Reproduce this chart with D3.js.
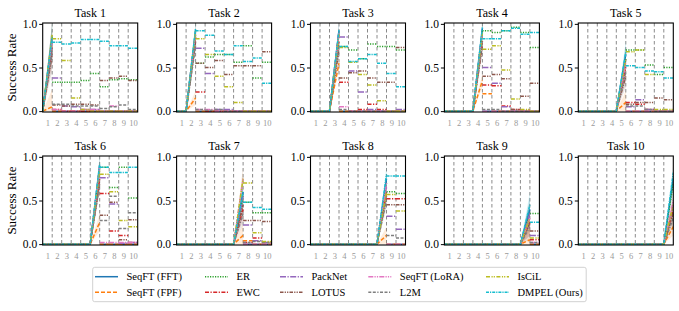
<!DOCTYPE html>
<html><head><meta charset="utf-8">
<script src="https://cdn.jsdelivr.net/npm/d3@7"></script>
<style>
html,body{margin:0;padding:0;background:#fff;}
svg{display:block;}
</style></head>
<body><svg id="chart" width="679" height="311"></svg>
<script>
const methods = ["SeqFT (FFT)", "SeqFT (FPF)", "ER", "EWC", "PackNet", "LOTUS", "SeqFT (LoRA)", "L2M", "IsCiL", "DMPEL (Ours)"];
const taskTitles = ["Task 1","Task 2","Task 3","Task 4","Task 5","Task 6","Task 7","Task 8","Task 9","Task 10"];
const xTicks = [1,2,3,4,5,6,7,8,9,10];
const yTicks = [0.0, 0.5, 1.0];

// Row t-1: [value at end of task t, then value after each later task t+1..10]
const seqftFFT = [
 [0.85,0,0,0,0,0,0,0,0,0],[0.93,0,0,0,0,0,0,0,0],[0.92,0,0,0,0,0,0,0],[0.95,0,0,0,0,0,0],
 [0.65,0,0,0,0,0],[0.90,0,0,0,0],[0.60,0,0,0],[0.75,0,0],[0.40,0],[0.75]];
const seqftFPF = [
 [0.05,0,0,0,0,0,0,0,0,0],[0.15,0,0,0,0,0,0,0,0],[0.55,0,0,0,0,0,0,0],[0.35,0.20,0,0,0,0,0],
 [0.10,0,0,0,0,0],[0.25,0,0,0,0],[0.10,0.04,0,0],[0.10,0,0],[0.05,0],[0.20]];
const er = [
 [0.80,0.33,0.33,0.33,0.35,0.43,0.28,0.36,0.37,0.36],[0.88,0.55,0.62,0.65,0.65,0.56,0.75,0.38,0.56],
 [0.90,0.74,0.70,0.60,0.77,0.74,0.74,0.70],[0.92,0.92,0.90,0.92,0.96,0.90,0.73],
 [0.60,0.70,0.70,0.53,0.42,0.50],[0.88,0.88,0.65,0.88,0.53],[0.55,0.48,0.36,0.36],[0.70,0.60,0.58],[0.35,0.35],[0.70]];
const ewc = [
 [0.75,0.02,0,0,0,0,0,0,0,0],[0.85,0.22,0,0,0,0,0,0,0],[0.80,0.33,0,0.02,0.08,0.02,0,0],
 [0.80,0.30,0.29,0.06,0.02,0.01,0],[0.50,0.10,0.08,0.02,0,0],[0.75,0.58,0.15,0.10,0.02],
 [0.40,0.02,0.07,0.02],[0.60,0.52,0.52],[0.25,0.05],[0.40]];
const packnet = [
 [0.82,0.38,0.06,0.05,0.02,0.02,0,0,0,0],[0.90,0.72,0.43,0.02,0.02,0,0,0,0],[0.92,0.85,0.46,0.22,0.02,0,0,0.02],
 [0.92,0.50,0.32,0.05,0,0,0],[0.60,0.05,0.13,0.02,0,0],[0.85,0.76,0.46,0.01,0.02],
 [0.55,0.22,0.04,0.02],[0.65,0.32,0.17],[0.35,0.10],[0.45]];
const lotus = [
 [0.65,0.07,0.06,0.08,0.08,0.07,0.35,0.38,0.40,0.35],[0.80,0.55,0.50,0.58,0.42,0.52,0.52,0.52,0.68],
 [0.70,0.38,0.44,0.46,0.38,0.33,0.33,0.73],[0.75,0.40,0.42,0.37,0.02,0.17,0.32],
 [0.40,0.08,0.10,0.10,0.15,0.13],[0.70,0.33,0.48,0.05,0.28],[0.45,0.27,0.27,0.26],[0.55,0.45,0.45],[0.25,0.15],[0.35]];
const seqftLoRA = [
 [0.80,0.02,0,0,0.02,0.02,0,0.06,0,0],[0.90,0.02,0.02,0,0,0,0,0,0],[0.90,0.05,0,0,0,0,0,0],
 [0.90,0,0,0,0,0,0],[0.55,0,0,0,0,0],[0.90,0.02,0.02,0.02,0.02],[0.75,0,0,0],[0.70,0,0],[0.30,0.02],[0.50]];
const l2m = [
 [0.70,0.08,0.08,0.06,0.06,0.06,0.03,0.05,0.07,0.02],[0.75,0.02,0.01,0.02,0,0,0,0,0],[0.75,0.02,0,0,0,0,0,0],
 [0.80,0.02,0.02,0,0,0,0],[0.45,0.06,0.06,0.02,0,0],[0.70,0.27,0.55,0.18,0.36],[0.35,0.02,0.03,0.02],
 [0.50,0.10,0.07],[0.20,0.02],[0.30]];
const iscil = [
 [0.88,0.83,0.58,0.15,0.02,0,0,0,0,0],[0.92,0.83,0.65,0.40,0.28,0.10,0,0,0],[0.88,0.73,0.56,0.42,0.30,0.12,0,0],
 [0.90,0.71,0.75,0.47,0.14,0.02,0],[0.60,0.68,0.70,0.42,0.02,0.02],[0.85,0.80,0.60,0.27,0.20],
 [0.75,0.70,0.13,0.03],[0.60,0.57,0.38],[0.30,0.07],[0.45]];
const dmpel = [
 [0.85,0.79,0.77,0.78,0.82,0.82,0.80,0.75,0.75,0.72],[0.95,0.92,0.87,0.69,0.65,0.75,0.57,0.61,0.32],
 [0.93,0.74,0.57,0.60,0.65,0.55,0.43,0.28],[0.96,0.83,0.83,0.92,0.95,0.88,0.90],
 [0.68,0.52,0.50,0.46,0.45,0.38],[0.92,0.88,0.82,0.82,0.88],[0.60,0.48,0.42,0.40],[0.80,0.78,0.78],[0.45,0.25],[0.82]];
// spread (std) of the learning curve at the end of each task
const rampStd = [0.2,0.08,0.08,0.08,0.13,0.1,0.13,0.1,0.15,0.1];

const seriesData = [seqftFFT, seqftFPF, er, ewc, packnet, lotus, seqftLoRA, l2m, iscil, dmpel];
const colors = ["#1f77b4","#ff7f0e","#2ca02c","#d62728","#9467bd","#8c564b","#e377c2","#7f7f7f","#bcbd22","#17becf"];
const dashes = [null,"4,2","1.2,1.3","4,1.5,1.2,1.5","6,1.5,1.2,1.5","3.5,1.2,1.2,1.2,1.2,1.2","5,1.2,1.2,1.2,1.2,1.2","3,1.5,3,1.5,1.2,1.5","4,1.5,1.2,1,1.2,1.5","3,1,1.2,1"];

// pick the first installed serif font
function pickFont(cands) {
  const ctx = document.createElement("canvas").getContext("2d");
  const s = "Success Rate SeqFT (LoRA) 0123456789";
  for (const f of cands) {
    let ok = true;
    for (const fb of ["monospace", "sans-serif"]) {
      ctx.font = `20px ${fb}`; const w0 = ctx.measureText(s).width;
      ctx.font = `20px "${f}", ${fb}`; const w1 = ctx.measureText(s).width;
      if (Math.abs(w0 - w1) < 0.01) ok = false;
    }
    if (ok) return `"${f}", serif`;
  }
  return "serif";
}
const FONT = pickFont(["Liberation Serif", "Times New Roman", "Tinos", "DejaVu Serif"]);

const svg = d3.select("#chart").attr("font-family", FONT);
const panelW = 95, colStep = 133.9, left0 = 42.7;
const rows = [{top:23, bottom:112}, {top:156, bottom:245}];

taskTitles.forEach((title, t) => {
  const col = t % 5, row = Math.floor(t / 5);
  const L = left0 + col * colStep;
  const R = rows[row];
  const x = d3.scaleLinear().domain([0.5, 10.5]).range([L, L + panelW]);
  const y = d3.scaleLinear().domain([-0.01, 1.01]).range([R.bottom, R.top]);
  const g = svg.append("g");
  const clipId = "clip" + t;
  g.append("clipPath").attr("id", clipId).append("rect")
    .attr("x", L).attr("y", R.top).attr("width", panelW).attr("height", R.bottom - R.top);
  const plot = g.append("g").attr("clip-path", `url(#${clipId})`);

  plot.selectAll("line.vb").data(d3.range(1.5, 10, 1)).join("line")
    .attr("x1", d => x(d)).attr("x2", d => x(d)).attr("y1", R.top).attr("y2", R.bottom)
    .attr("stroke", "#8a8a8a").attr("stroke-width", 1).attr("stroke-dasharray", "3.5,2.5");

  const tk = t + 1;
  seriesData.forEach((s, m) => {
    const peak = s[t][0], sd = rampStd[t];
    const pts = [[tk - 0.5, 0], [tk + 0.5, Math.min(1.02, peak + sd)], [tk + 0.5, Math.max(0, peak - sd)]];
    plot.append("path")
      .attr("d", d3.line().x(d => x(d[0])).y(d => y(d[1]))(pts) + "Z")
      .attr("fill", colors[m]).attr("fill-opacity", 0.15).attr("stroke", "none");
  });

  const line = d3.line().x(d => x(d[0])).y(d => y(d[1]));
  seriesData.forEach((s, m) => {
    const vals = s[t];
    const pre = [[0.5, 0], [tk - 0.5, 0], [tk + 0.5, vals[0]]];
    const styleIt = sel => sel.attr("fill", "none").attr("stroke", colors[m]).attr("stroke-width", 1.5)
      .attr("stroke-dasharray", dashes[m]);
    styleIt(plot.append("path").attr("d", line(pre)));
    for (let k = 1; k < vals.length; k++) {
      const j = tk + k;
      styleIt(plot.append("path").attr("d", line([[j - 0.5, vals[k]], [j + 0.5, vals[k]]])));
    }
  });

  g.append("rect").attr("x", L).attr("y", R.top).attr("width", panelW).attr("height", R.bottom - R.top)
    .attr("fill", "none").attr("stroke", "#000").attr("stroke-width", 1.1);

  const ya = g.append("g").attr("transform", `translate(${L},0)`)
    .call(d3.axisLeft(y).tickValues(yTicks).tickFormat(d3.format(".1f")).tickSize(3.5).tickPadding(2));
  ya.attr("font-family", FONT);
  ya.select(".domain").remove();
  ya.selectAll("text").attr("font-size", 11.5).attr("fill", "#000");
  ya.selectAll("line").attr("stroke", "#000");

  const xa = g.append("g").attr("transform", `translate(0,${R.bottom})`)
    .call(d3.axisBottom(x).tickValues(xTicks).tickSize(0).tickPadding(7.5));
  xa.attr("font-family", FONT);
  xa.select(".domain").remove();
  xa.selectAll("text").attr("font-size", 8.5).attr("fill", "#9a9a9a");

  g.append("text").attr("x", L + panelW / 2).attr("y", R.top - 6.5)
    .attr("text-anchor", "middle").attr("font-size", 12).attr("fill", "#000").text(title);
});

rows.forEach(R => {
  svg.append("text").attr("transform", `translate(15.5,${(R.top + R.bottom) / 2}) rotate(-90)`)
    .attr("text-anchor", "middle").attr("font-size", 13).text("Success Rate");
});

const leg = svg.append("g");
leg.append("rect").attr("x", 92.7).attr("y", 267.3).attr("width", 493.5).attr("height", 34.4)
  .attr("rx", 2).attr("fill", "#fff").attr("stroke", "#cccccc").attr("stroke-width", 0.9);
const colX = [95, 205, 280, 368.3, 486];
const rowY = [276.7, 292.3];
methods.forEach((name, m) => {
  const c = Math.floor(m / 2), r = m % 2;
  const lx = colX[c], ly = rowY[r];
  leg.append("line").attr("x1", lx).attr("x2", lx + 23).attr("y1", ly).attr("y2", ly)
    .attr("stroke", colors[m]).attr("stroke-width", 1.5).attr("stroke-dasharray", dashes[m]);
  leg.append("text").attr("x", lx + 31.5).attr("y", ly + 3.6).attr("font-size", 10.5).text(name);
});
</script></body></html>
